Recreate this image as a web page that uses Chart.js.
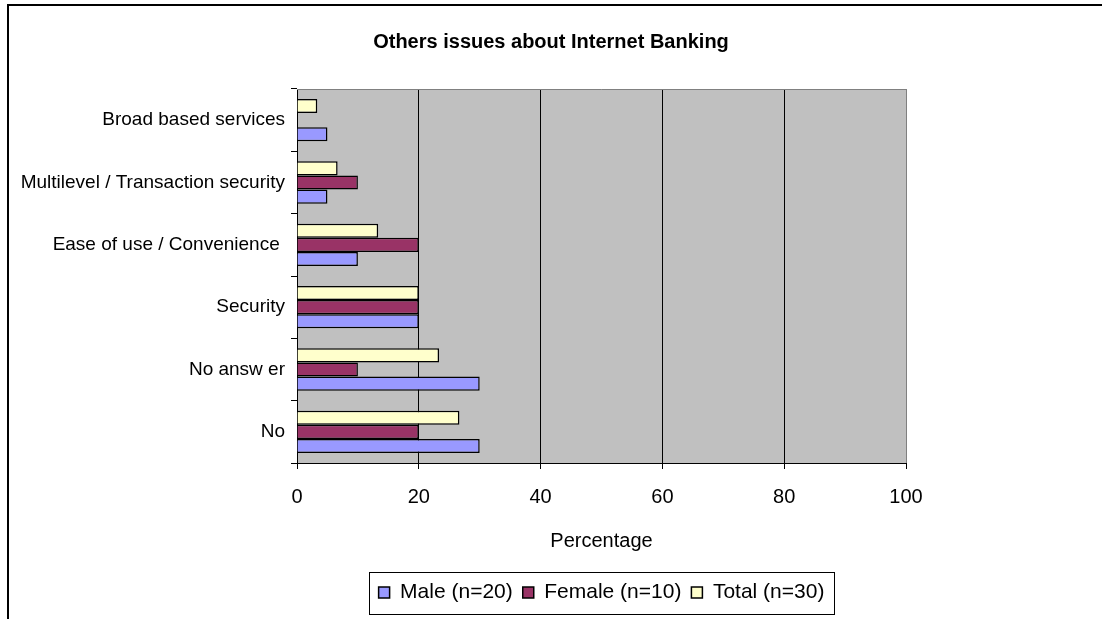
<!DOCTYPE html>
<html>
<head>
<meta charset="utf-8">
<script src="https://cdn.jsdelivr.net/npm/chart.js@4"></script>
<style>
  html, body { margin: 0; padding: 0; background: #fff; }
  #c { display: block; }
</style>
</head>
<body>
<canvas id="c" width="1102" height="619"></canvas>
<script>
// ---- data ----
const categories = [
  'Broad based services',
  'Multilevel / Transaction security',
  'Ease of use / Convenience ',
  'Security',
  'No answ er',
  'No'
];
const maleValues   = [5, 5, 10, 20, 30, 30];
const femaleValues = [0, 10, 20, 20, 10, 20];
const totalValues  = [3.33, 6.67, 13.33, 20, 23.33, 26.67];
const seriesNames  = ['Male (n=20)', 'Female (n=10)', 'Total (n=30)'];
const xTicks = [0, 20, 40, 60, 80, 100];
const chartTitle = 'Others issues about Internet Banking';
const xAxisTitle = 'Percentage';

const FONT = "'Liberation Sans', Arial, sans-serif";
Chart.defaults.font.family = FONT;
Chart.defaults.color = '#000';

const framePlugin = {
  id: 'frame',
  beforeDraw(chart) {
    const ctx = chart.ctx;
    const a = chart.chartArea;
    ctx.save();
    ctx.fillStyle = '#fff';
    ctx.fillRect(0, 0, chart.width, chart.height);
    // outer frame (top & left visible)
    ctx.strokeStyle = '#000';
    ctx.lineWidth = 2;
    ctx.beginPath();
    ctx.moveTo(8, chart.height + 2);
    ctx.lineTo(8, 5);
    ctx.lineTo(chart.width + 2, 5);
    ctx.stroke();
    // plot background
    ctx.fillStyle = '#C0C0C0';
    ctx.fillRect(a.left, a.top, a.right - a.left, a.bottom - a.top);
    ctx.restore();
  },
  beforeDatasetsDraw(chart) {
    const ctx = chart.ctx;
    const a = chart.chartArea;
    ctx.save();
    ctx.strokeStyle = '#808080';
    ctx.lineWidth = 1;
    ctx.beginPath();
    ctx.moveTo(a.left, Math.round(a.top) + 0.5);
    ctx.lineTo(a.right, Math.round(a.top) + 0.5);
    ctx.stroke();
    ctx.restore();
  },
  afterLayout(chart) {
    const a = chart.chartArea;
    if (chart.titleBlock) {
      chart.titleBlock.left = 0;
      chart.titleBlock.right = chart.width;
      chart.titleBlock.width = chart.width;
    }
    if (chart.legend) {
      chart.legend.left = a.left;
      chart.legend.right = a.right;
      chart.legend.width = a.right - a.left;
    }
  },
  afterDraw(chart) {
    const lg = chart.legend;
    if (!lg || !lg.legendHitBoxes || !lg.legendHitBoxes.length) return;
    const hb = lg.legendHitBoxes;
    let l = Infinity, r = -Infinity, cy = 0;
    hb.forEach(h => { l = Math.min(l, h.left); r = Math.max(r, h.left + h.width); cy = h.top + h.height / 2; });
    const ctx = chart.ctx;
    ctx.save();
    ctx.strokeStyle = '#000';
    ctx.lineWidth = 1;
    ctx.strokeRect(Math.round(l - 10) + 0.5, Math.round(cy - 21) + 0.5, Math.round(r - l + 19), 42);
    ctx.restore();
  }
};

new Chart(document.getElementById('c'), {
  type: 'bar',
  data: {
    labels: categories,
    datasets: [
      { label: seriesNames[2], data: totalValues,  backgroundColor: '#FFFFCC', borderColor: '#000', borderWidth: 1.5 },
      { label: seriesNames[1], data: femaleValues, backgroundColor: '#993366', borderColor: '#000', borderWidth: 1.5 },
      { label: seriesNames[0], data: maleValues,   backgroundColor: '#9999FF', borderColor: '#000', borderWidth: 1.5 }
    ]
  },
  options: {
    indexAxis: 'y',
    responsive: false,
    animation: false,
    events: [],
    categoryPercentage: 0.68,
    barPercentage: 1,
    layout: { padding: { top: 30, left: 0, right: 196, bottom: 6 } },
    plugins: {
      title: {
        display: true,
        text: chartTitle,
        font: { size: 20, weight: 'bold', family: FONT },
        color: '#000',
        padding: { top: 0, bottom: 35 }
      },
      legend: {
        display: true,
        position: 'bottom',
        reverse: true,
        labels: {
          font: { size: 21, family: FONT },
          color: '#000',
          boxWidth: 11,
          boxHeight: 11,
          padding: 10
        }
      },
      tooltip: { enabled: false }
    },
    scales: {
      x: {
        type: 'linear',
        min: 0,
        max: 100,
        afterBuildTicks(scale) { scale.ticks = xTicks.map(v => ({ value: v })); },
        ticks: { font: { size: 20, family: FONT }, color: '#000', padding: 16 },
        grid: {
          drawOnChartArea: true,
          drawTicks: true,
          tickLength: 6,
          color: (c) => (c.index === xTicks.length - 1 ? '#808080' : '#000'),
          tickColor: '#000',
          lineWidth: 1
        },
        border: { display: true, color: '#000', width: 1 },
        title: {
          display: true,
          text: xAxisTitle,
          font: { size: 20, family: FONT },
          color: '#000',
          padding: { top: 4, bottom: 19 }
        },
        afterFit(scale) { scale.height = 109; }
      },
      y: {
        type: 'category',
        offset: true,
        ticks: { font: { size: 19, family: FONT }, color: '#000', padding: 6, autoSkip: false },
        grid: {
          offset: true,
          drawOnChartArea: false,
          drawTicks: true,
          tickLength: 6,
          tickColor: '#000'
        },
        border: { display: true, color: '#000', width: 1 },
        afterFit(scale) { scale.width = 297; }
      }
    }
  },
  plugins: [framePlugin]
});
</script>
</body>
</html>
